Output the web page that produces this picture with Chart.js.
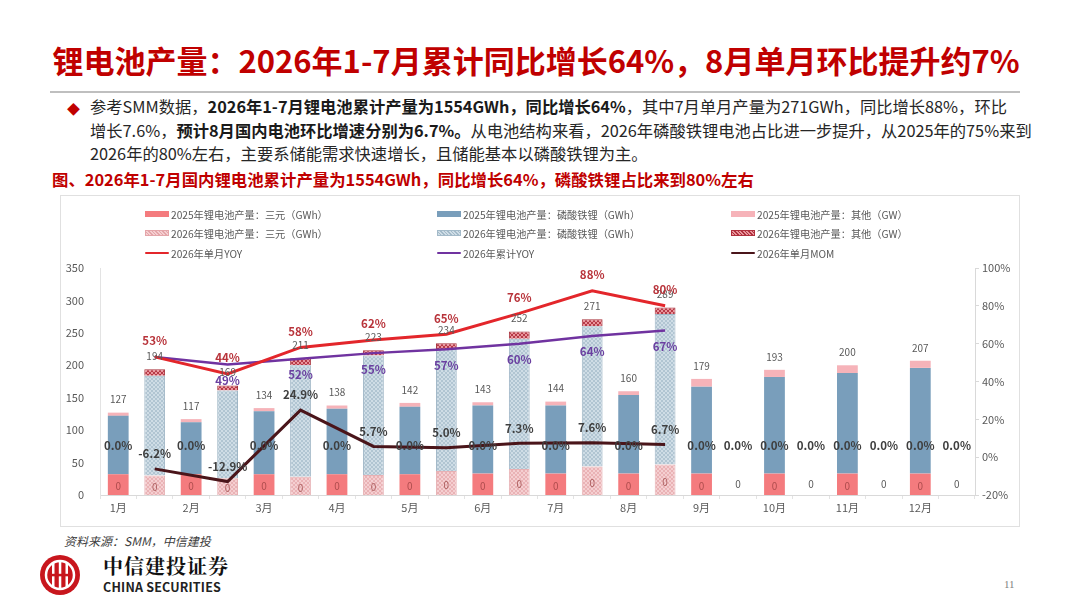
<!DOCTYPE html>
<html>
<head>
<meta charset="utf-8">
<script src="https://cdn.jsdelivr.net/npm/chart.js@4.4.1/dist/chart.umd.min.js"></script>
<style>
  html, body { margin: 0; padding: 0; }
  body {
    width: 1080px; height: 608px; position: relative; overflow: hidden;
    background: #fff; font-family: "Noto Sans CJK SC", "Noto Sans", sans-serif; color: #262626;
  }
  .title {
    position: absolute; left: 50px; top: 38px; width: 972px; text-align: center;
    font-size: 31px; font-weight: 700; color: #c00000; white-space: nowrap; line-height: 44px;
  }
  .rule { position: absolute; left: 50px; top: 91px; width: 970px; height: 2px; background: #bfbfbf; }
  .para { position: absolute; left: 90px; top: 95px; font-size: 16.3px; line-height: 23.5px; white-space: nowrap; color: #262626; }
  .para b { font-weight: 700; color: #1a1a1a; }
  .bullet { position: absolute; left: 67px; top: 99px; color: #c00000; font-size: 13px; }
  .caption { position: absolute; left: 52px; top: 167px; font-size: 16.4px; font-weight: 700; color: #c00000; white-space: nowrap; }
  .box { position: absolute; left: 60px; top: 195px; width: 958px; height: 330px; border: 1px solid #e0e0e0; }
  #chart { position: absolute; left: 60px; top: 195px; }
  .legend { position: absolute; left: 0; top: 0; font-size: 10.2px; color: #595959; }
  .lg { position: absolute; white-space: nowrap; display: flex; align-items: center; height: 14px; }
  .sw { display: inline-block; width: 24px; height: 6px; margin-right: 2px; }
  .ln { display: inline-block; width: 24px; height: 2.5px; border-radius: 1px; margin-right: 2px; }
  .source { position: absolute; left: 64px; top: 532px; font-size: 12px; font-style: italic; color: #404040; }
  .logo-cn { position: absolute; left: 103px; top: 551px; font-size: 20px; font-weight: 700; font-family: "Noto Serif CJK SC", "Noto Sans CJK SC", serif; color: #111; letter-spacing: 1px; }
  .logo-en { position: absolute; left: 103px; top: 577px; font-size: 12.5px; font-weight: 700; color: #222; letter-spacing: 0.2px; }
  .page { position: absolute; left: 1004px; top: 578px; font-size: 11px; color: #7f7f7f; font-family: "Liberation Serif", serif; }
</style>
</head>
<body>
<div class="title">锂电池产量：2026年1-7月累计同比增长64%，8月单月环比提升约7%</div>
<div class="rule"></div>
<div class="bullet">◆</div>
<div class="para">
  <div>参考SMM数据，<b>2026年1-7月锂电池累计产量为1554GWh，同比增长64%</b>，其中7月单月产量为271GWh，同比增长88%，环比</div>
  <div>增长7.6%，<b>预计8月国内电池环比增速分别为6.7%。</b>从电池结构来看，2026年磷酸铁锂电池占比进一步提升，从2025年的75%来到</div>
  <div>2026年的80%左右，主要系储能需求快速增长，且储能基本以磷酸铁锂为主。</div>
</div>
<div class="caption">图、2026年1-7月国内锂电池累计产量为1554GWh，同比增长64%，磷酸铁锂占比来到80%左右</div>

<div class="box"></div>
<canvas id="chart" width="960" height="332"></canvas>
<div class="legend" id="legend"></div>

<div class="source">资料来源：SMM，中信建投</div>
<svg style="position:absolute;left:39px;top:554px" width="42" height="42" viewBox="0 0 42 42">
  <circle cx="21" cy="21" r="20" fill="#c8161d"/>
  <circle cx="21" cy="21" r="14" fill="none" stroke="#fff" stroke-width="2.5"/>
  <rect x="13" y="9" width="2.5" height="24" fill="#fff"/>
  <rect x="19.8" y="7" width="2.5" height="28" fill="#fff"/>
  <rect x="26.5" y="9" width="2.5" height="24" fill="#fff"/>
  <rect x="10" y="19.8" width="22" height="2.5" fill="#c8161d"/>
</svg>
<div class="logo-cn">中信建投证券</div>
<div class="logo-en">CHINA SECURITIES</div>
<div class="page">11</div>

<script>
// months on the axis, each month holds a 2025 bar and a 2026 bar
const months = ['1月', '2月', '3月', '4月', '5月', '6月', '7月', '8月', '9月', '10月', '11月', '12月'];

// 2025 production, GWh
const ncm2025 = [32, 32, 32, 32, 32, 33, 33, 33, 33, 33, 33, 33];
const lfp2025 = [90, 80, 97, 101, 104, 105, 105, 121, 134, 149, 155, 163];
const other2025 = [5, 5, 5, 5, 6, 5, 6, 6, 12, 11, 12, 11];

// 2026 production, GWh (Jan-Aug)
const ncm2026 = [30, 26, 28, 31, 37, 40, 44, 47];
const lfp2026 = [154, 135, 172, 184, 188, 201, 216, 232];
const other2026 = [10, 8, 11, 8, 9, 11, 11, 10];

// growth rates, %
const yoyMonth2026 = [53, 44, 58, 62, 65, 76, 88, 80];
const yoyCum2026 = [53, 49, 52, 55, 57, 60, 64, 67];
const mom2026 = [-6.2, -12.9, 24.9, 5.7, 5.0, 7.3, 7.6, 6.7];
// MOM shown as 0.0% where there is no line
const momZero2025 = [0, 0, 0, 0, 0, 0, 0, 0, 0, 0, 0, 0];
const momZero2026 = [null, null, null, null, null, null, null, null, 0, 0, 0, 0];

// small "0" labels at the bottom of every slot
const baseLabel2025 = [0, 0, 0, 0, 0, 0, 0, 0, 0, 0, 0, 0];
const baseLabel2026 = [0, 0, 0, 0, 0, 0, 0, 0, 0, 0, 0, 0];

const legendItems = [
    { text: '2025年锂电池产量：三元（GWh）', kind: 'ncm25' },
    { text: '2025年锂电池产量：磷酸铁锂（GWh）', kind: 'lfp25' },
    { text: '2025年锂电池产量：其他（GW）', kind: 'oth25' },
    { text: '2026年锂电池产量：三元（GWh）', kind: 'ncm26' },
    { text: '2026年锂电池产量：磷酸铁锂（GWh）', kind: 'lfp26' },
    { text: '2026年锂电池产量：其他（GW）', kind: 'oth26' },
    { text: '2026年单月YOY', kind: 'yoy' },
    { text: '2026年累计YOY', kind: 'cum' },
    { text: '2026年单月MOM', kind: 'mom' }
];

// put a 2025 array on even slots and a 2026 array on odd slots
const pair = (a, b) => months.flatMap((m, i) => [a[i] ?? null, b[i] ?? null]);
const slots = months.flatMap(m => [m, m]);

const C = {
    ncm25: '#f47b7e', lfp25: '#799ebb', oth25: '#f6b3b9',
    yoy: '#e3262b', cum: '#7033a0', mom: '#4a151a'
};

function hatch(bg, fg, size, lw) {
    const c = document.createElement('canvas');
    c.width = c.height = size;
    const g = c.getContext('2d');
    g.fillStyle = bg;
    g.fillRect(0, 0, size, size);
    g.strokeStyle = fg;
    g.lineWidth = lw;
    g.beginPath();
    g.moveTo(0, size); g.lineTo(size, 0);
    g.moveTo(-1, 1); g.lineTo(1, -1);
    g.moveTo(size - 1, size + 1); g.lineTo(size + 1, size - 1);
    g.moveTo(0, 0); g.lineTo(size, size);
    g.stroke();
    return g.createPattern(c, 'repeat');
}

const P = {
    ncm26: hatch('#f5cfd1', '#e4a5a9', 4, 0.7),
    lfp26: hatch('#cfdde6', '#a3bac9', 4, 0.7),
    oth26: hatch('#e9959c', '#b0303d', 4, 0.9)
};

// html legend in three columns
const legend = document.getElementById('legend');
const colX = [145, 437, 731];
const rowY = [207, 226, 246];
legendItems.forEach((it, k) => {
    const d = document.createElement('div');
    d.className = 'lg';
    d.style.left = colX[k % 3] + 'px';
    d.style.top = rowY[Math.floor(k / 3)] + 'px';
    const s = document.createElement('span');
    if (['yoy', 'cum', 'mom'].includes(it.kind)) {
        s.className = 'ln';
        s.style.background = C[it.kind];
    } else {
        s.className = 'sw';
        if (C[it.kind]) {
            s.style.background = C[it.kind];
        } else {
            const fg = { ncm26: '#e4a5a9', lfp26: '#a3bac9', oth26: '#b0303d' }[it.kind];
            const bg = { ncm26: '#f5cfd1', lfp26: '#cfdde6', oth26: '#e9959c' }[it.kind];
            s.style.background = `repeating-linear-gradient(45deg, ${bg} 0 1.5px, ${fg} 1.5px 2.5px)`;
            s.style.border = '1px solid ' + fg;
            s.style.boxSizing = 'border-box';
        }
    }
    d.appendChild(s);
    d.appendChild(document.createTextNode(it.text));
    legend.appendChild(d);
});

const labelPlugin = {
    id: 'labels',
    afterDatasetsDraw(chart) {
        const ctx = chart.ctx;
        const ds = chart.data.datasets;
        const yAxis = chart.scales.y;
        ctx.save();
        ctx.textAlign = 'center';
        ctx.textBaseline = 'middle';
        const font = (w, s) => `${w} ${s}px "Noto Sans CJK SC", sans-serif`;

        slots.forEach((m, i) => {
            const yr = i % 2;
            const bottom = yr === 0 ? 4 : 7;
            const top = yr === 0 ? 6 : 9;

            // base "0" label
            const baseVal = (yr === 0 ? baseLabel2025 : baseLabel2026)[Math.floor(i / 2)];
            const bEl = chart.getDatasetMeta(bottom).data[i];
            ctx.font = font(400, 10);
            if (ds[bottom].data[i] != null) {
                ctx.fillStyle = 'rgba(150,60,60,0.75)';
                ctx.fillText(String(baseVal), bEl.x, (bEl.y + bEl.base) / 2 + 2);
            } else {
                ctx.fillStyle = '#595959';
                ctx.fillText(String(baseVal), bEl.x, yAxis.getPixelForValue(17));
            }

            // stack total
            if (ds[top].data[i] != null) {
                const tot = ds[bottom].data[i] + ds[bottom + 1].data[i] + ds[top].data[i];
                const tEl = chart.getDatasetMeta(top).data[i];
                ctx.fillStyle = '#595959';
                ctx.font = font(400, 10);
                ctx.fillText(String(tot), tEl.x, tEl.y - 13);
            }
        });

        const lineLabels = [
            { idx: 3, color: '#3f3f3f', dy: -12, fmt: v => v.toFixed(1) + '%' },
            { idx: 2, color: '#3f3f3f', dy: -15, fmt: v => v.toFixed(1) + '%' },
            { idx: 1, color: '#6a3fa0', dy: 16, fmt: v => v + '%', skip: [1] },
            { idx: 0, color: '#b8333a', dy: -16, fmt: v => v + '%' }
        ];
        lineLabels.forEach(L => {
            const meta = chart.getDatasetMeta(L.idx);
            ctx.fillStyle = L.color;
            ctx.font = font(700, 11.5);
            ds[L.idx].data.forEach((v, i) => {
                if (v == null || (L.skip && L.skip.includes(i))) return;
                const el = meta.data[i];
                ctx.fillText(L.fmt(v), el.x, el.y + L.dy);
            });
        });
        ctx.restore();
    }
};

const tickFont = { family: '"Noto Sans CJK SC", sans-serif', size: 11 };

new Chart(document.getElementById('chart'), {
    data: {
        labels: slots,
        datasets: [
            { type: 'line', label: '2026年单月YOY', data: pair([], yoyMonth2026), yAxisID: 'y1',
              borderColor: C.yoy, borderWidth: 3, pointRadius: 0, spanGaps: true, order: 0 },
            { type: 'line', label: '2026年累计YOY', data: pair([], yoyCum2026), yAxisID: 'y1',
              borderColor: C.cum, borderWidth: 2.5, pointRadius: 0, spanGaps: true, order: 0 },
            { type: 'line', label: '2026年单月MOM', data: pair([], mom2026), yAxisID: 'y1',
              borderColor: C.mom, borderWidth: 3, pointRadius: 0, spanGaps: true, order: 0 },
            { type: 'line', label: 'MOM 0', data: pair(momZero2025, momZero2026), yAxisID: 'y1',
              showLine: false, pointRadius: 0, order: 0 },
            { type: 'bar', label: '2025年锂电池产量：三元（GWh）', data: pair(ncm2025, []), backgroundColor: C.ncm25, stack: 's', order: 1 },
            { type: 'bar', label: '2025年锂电池产量：磷酸铁锂（GWh）', data: pair(lfp2025, []), backgroundColor: C.lfp25, stack: 's', order: 1 },
            { type: 'bar', label: '2025年锂电池产量：其他（GW）', data: pair(other2025, []), backgroundColor: C.oth25, stack: 's', order: 1 },
            { type: 'bar', label: '2026年锂电池产量：三元（GWh）', data: pair([], ncm2026), backgroundColor: P.ncm26,
              borderColor: '#e7b1b4', borderWidth: 1, stack: 's', order: 1 },
            { type: 'bar', label: '2026年锂电池产量：磷酸铁锂（GWh）', data: pair([], lfp2026), backgroundColor: P.lfp26,
              borderColor: '#9fb6c6', borderWidth: 1, stack: 's', order: 1 },
            { type: 'bar', label: '2026年锂电池产量：其他（GW）', data: pair([], other2026), backgroundColor: P.oth26,
              borderColor: '#a8323c', borderWidth: 1, stack: 's', order: 1 }
        ]
    },
    options: {
        responsive: false,
        animation: false,
        barPercentage: 0.6,
        categoryPercentage: 0.95,
        layout: { padding: { top: 73, left: 0, right: 0, bottom: 0 } },
        plugins: {
            legend: { display: false },
            tooltip: { enabled: false }
        },
        scales: {
            x: {
                stacked: true,
                afterFit: s => { s.height = 32; },
                grid: { drawOnChartArea: false, tickLength: 4, color: '#e3e3e3' },
                border: { color: '#d9d9d9' },
                ticks: {
                    autoSkip: false, maxRotation: 0, padding: 2,
                    color: '#595959', font: tickFont,
                    callback: (v, i) => (i % 2 === 0 ? months[i / 2] : '')
                }
            },
            y: {
                stacked: true,
                position: 'left',
                min: 0, max: 350,
                afterFit: s => { s.width = 40; },
                grid: { display: false },
                border: { display: true, color: '#e3e3e3' },
                ticks: { stepSize: 50, padding: 8, color: '#595959', font: tickFont }
            },
            y1: {
                position: 'right',
                min: -20, max: 100,
                afterFit: s => { s.width = 45; },
                grid: { drawOnChartArea: false, tickLength: 4, color: '#d9d9d9' },
                border: { display: true, color: '#d9d9d9' },
                ticks: { stepSize: 20, padding: 3, color: '#595959', font: tickFont, callback: v => v + '%' }
            }
        }
    },
    plugins: [labelPlugin]
});
</script>
</body>
</html>
